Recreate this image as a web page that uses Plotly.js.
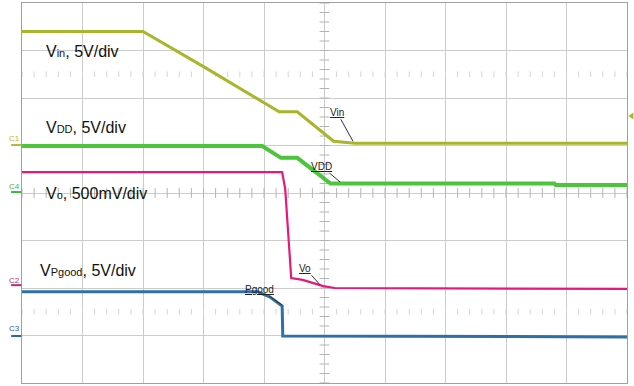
<!DOCTYPE html>
<html>
<head>
<meta charset="utf-8">
<script src="https://cdn.plot.ly/plotly-3.0.1.min.js"></script>
<style>
  html, body { margin: 0; padding: 0; background: #ffffff; }
  #chart { width: 634px; height: 386px; }
</style>
</head>
<body>
<div id="chart"></div>
<script>
// ---- Data (time in divisions, amplitude in divisions from screen centre) ----
const vinT   = [0, 2.0, 3.0, 4.25, 4.55, 5.15, 5.5, 10];
const vinV   = [3.40, 3.40, 2.66, 1.71, 1.71, 1.09, 1.05, 1.05];

const vddT   = [0, 3.97, 4.28, 4.55, 5.10, 8.80, 8.82, 10];
const vddV   = [0.99, 0.99, 0.74, 0.74, 0.20, 0.20, 0.17, 0.17];

const voT    = [0, 4.30, 4.35, 4.45, 4.64, 4.79, 4.98, 5.17, 10];
const voV    = [0.44, 0.44, 0.09, -1.79, -1.83, -1.89, -1.96, -2.00, -2.02];

const pgT    = [0, 3.90, 4.10, 4.30, 4.31, 10];
const pgV    = [-2.08, -2.08, -2.19, -2.38, -3.01, -3.03];

const seriesNames  = ['Vin', 'VDD', 'Vo', 'Pgood'];
const seriesColors = ['#a9b52a', '#4cc43c', '#e5197a', '#2e6fa6'];
const seriesWidths = [3, 4, 2.2, 3];

const scaleLabels = [
  'V<span style="font-size:11px">in</span>, 5V/div',
  'V<span style="font-size:11px">DD</span>, 5V/div',
  'V<span style="font-size:11px">o</span>, 500mV/div',
  'V<span style="font-size:11px">Pgood</span>, 5V/div'
];
const scaleLabelPos = [[0.364, 2.97], [0.364, 1.37], [0.364, -0.02], [0.264, -1.64]];

const traceLabels   = ['Vin', 'VDD', 'Vo', 'Pgood'];
const traceLabelAt  = [[5.47, 1.09], [5.26, 0.23], [4.93, -1.94], [4.30, -2.36]];
const traceLabelOff = [[-16, -29], [-19, -16], [-15, -17], [-23, -16]];

const chanNames  = ['C1', 'C4', 'C2', 'C3'];
const chanColors = ['#b8b830', '#3cb83c', '#b03070', '#2a6aa0'];
const chanTextY  = [1.14, 0.13, -1.85, -2.86];
const chanBarY   = [1.01, 0.02, -1.94, -3.01];

const trigLevel = 1.62;

// ---- Graticule decoration (centre-line ticks) ----
const tickX = [], tickY = [];
for (let i = 0; i <= 50; i++) { tickX.push(i * 0.2); }
for (let i = 0; i <= 40; i++) { tickY.push(-4 + i * 0.2); }

const traces = [];
traces.push({
  x: tickX, y: tickX.map(() => 0), mode: 'markers', hoverinfo: 'skip',
  marker: { symbol: 'line-ns', size: 7, line: { color: '#b4b4b4', width: 1 } }
});
traces.push({
  x: tickY.map(() => 5), y: tickY, mode: 'markers', hoverinfo: 'skip',
  marker: { symbol: 'line-ew', size: 7, line: { color: '#b4b4b4', width: 1 } }
});
[2.5, -2.5].forEach(r => {
  traces.push({
    x: tickX, y: tickX.map(() => r), mode: 'markers', hoverinfo: 'skip',
    marker: { symbol: 'line-ns', size: 4, line: { color: '#d4d4d4', width: 1 } }
  });
});

const xs = [vinT, vddT, voT, pgT];
const ys = [vinV, vddV, voV, pgV];
for (let i = 0; i < 4; i++) {
  traces.push({
    x: xs[i], y: ys[i], name: seriesNames[i], mode: 'lines',
    line: { color: seriesColors[i], width: seriesWidths[i] }
  });
}

const annotations = [];
for (let i = 0; i < 4; i++) {
  annotations.push({
    x: scaleLabelPos[i][0], y: scaleLabelPos[i][1], xref: 'x', yref: 'y',
    text: scaleLabels[i], showarrow: false, xanchor: 'left', yanchor: 'middle',
    font: { family: 'Liberation Sans, Arial, sans-serif', size: 16, color: '#111111' }
  });
  annotations.push({
    x: traceLabelAt[i][0], y: traceLabelAt[i][1], xref: 'x', yref: 'y',
    text: '<span style="text-decoration:underline">' + traceLabels[i] + '</span>',
    showarrow: true, arrowhead: 0, arrowwidth: 1, arrowcolor: '#333333',
    ax: traceLabelOff[i][0], ay: traceLabelOff[i][1], standoff: 0,
    font: { family: 'Liberation Sans, Arial, sans-serif', size: 10, color: '#222222' }
  });
  annotations.push({
    x: -0.013, y: chanTextY[i], xref: 'paper', yref: 'y',
    text: chanNames[i], showarrow: false, xanchor: 'center', yanchor: 'middle',
    font: { family: 'Liberation Sans, Arial, sans-serif', size: 8, color: chanColors[i] }
  });
}

const shapes = chanBarY.map((y, i) => ({
  type: 'line', xref: 'paper', yref: 'y', x0: -0.018, x1: -0.001, y0: y, y1: y,
  line: { color: chanColors[i], width: 2 }
}));
// trigger-level marker (small left-pointing triangle beyond the right edge)
shapes.push({
  type: 'path', xref: 'paper', yref: 'y',
  path: 'M 1.0025 ' + trigLevel + ' L 1.0105 ' + (trigLevel + 0.075) +
        ' L 1.0105 ' + (trigLevel - 0.075) + ' Z',
  fillcolor: '#a9b52a', line: { width: 0 }
});

const axisCommon = {
  showgrid: true, gridcolor: '#cccccc', gridwidth: 1,
  zeroline: false, showticklabels: false, ticks: '',
  showline: true, mirror: true, linecolor: '#a0a0a0', linewidth: 1,
  fixedrange: true
};

const layout = {
  width: 634, height: 386,
  margin: { l: 22, r: 7, t: 3, b: 3, pad: 0 },
  paper_bgcolor: '#ffffff', plot_bgcolor: '#ffffff',
  showlegend: false,
  xaxis: Object.assign({}, axisCommon, { range: [0, 10], dtick: 1, tick0: 0 }),
  yaxis: Object.assign({}, axisCommon, { range: [-4, 4], dtick: 1, tick0: 0 }),
  annotations: annotations,
  shapes: shapes
};

Plotly.newPlot('chart', traces, layout, { displayModeBar: false, staticPlot: true });
</script>
</body>
</html>
